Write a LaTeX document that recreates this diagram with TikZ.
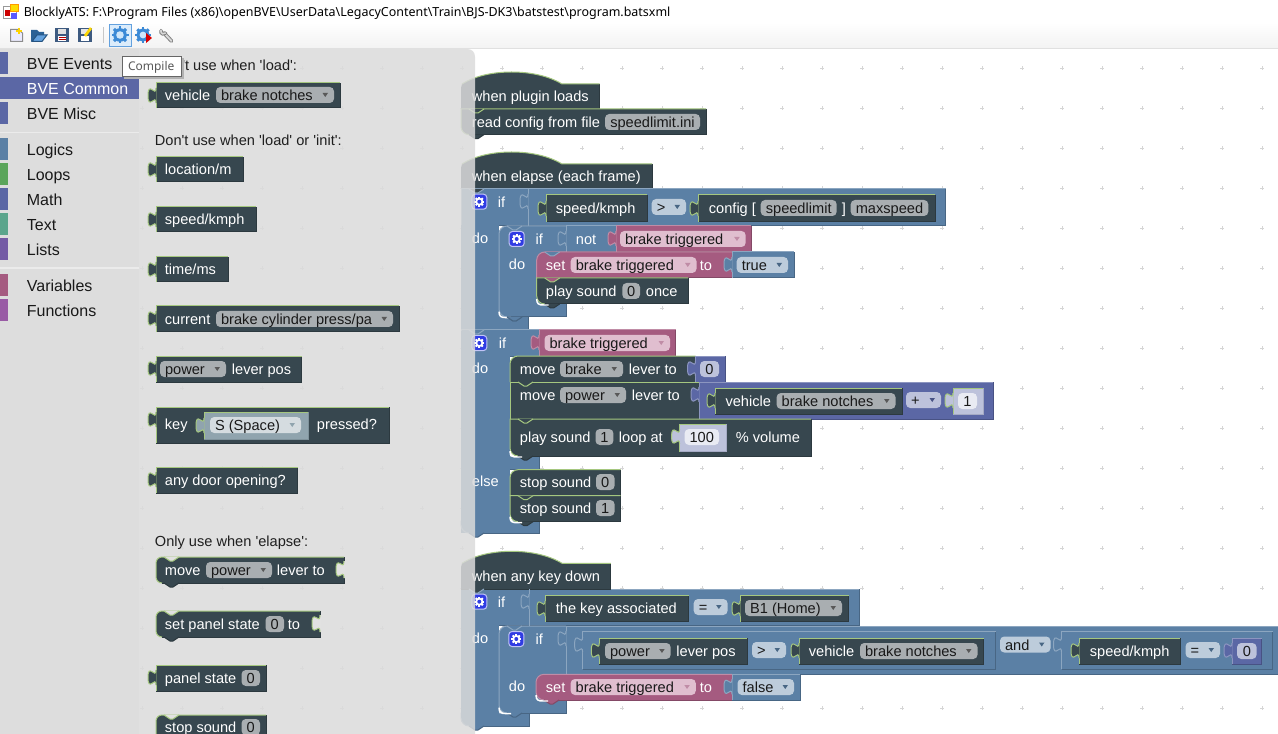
\documentclass[tikz,border=0pt]{standalone}
\usepackage{fontspec}
\newfontfamily\bkfont{Liberation Sans}
\newfontfamily\uifont{Noto Sans}
\definecolor{dk}{HTML}{37474F}\definecolor{dkL}{HTML}{A5C77F}\definecolor{dkD}{HTML}{2C393F}
\definecolor{bl}{HTML}{5B80A5}\definecolor{blL}{HTML}{8CA6C0}\definecolor{blD}{HTML}{486684}
\definecolor{pk}{HTML}{A55B80}\definecolor{pkL}{HTML}{C08CA6}\definecolor{pkD}{HTML}{844966}
\definecolor{pu}{HTML}{5B67A5}\definecolor{puL}{HTML}{8C95C0}\definecolor{puD}{HTML}{485284}
\definecolor{sh}{HTML}{BDC2DB}\definecolor{shL}{HTML}{A5C77F}\definecolor{shD}{HTML}{A5AAC4}
\definecolor{ks}{HTML}{90A4AE}\definecolor{ksL}{HTML}{A5C77F}\definecolor{ksD}{HTML}{7F929B}
\definecolor{fdk}{HTML}{A9AEB1}\definecolor{fpk}{HTML}{E0BECF}\definecolor{fbl}{HTML}{BDCCDB}
\definecolor{fpu}{HTML}{BDC2DB}\definecolor{fwh}{HTML}{E9EBF3}\definecolor{fky}{HTML}{D5DCE0}
\definecolor{flyb}{HTML}{E1E1E1}\definecolor{tool}{HTML}{DDDDDD}
\definecolor{gearb}{HTML}{2F3BE3}
\definecolor{lp}{HTML}{5BA55B}\definecolor{tx}{HTML}{5BA58C}\definecolor{ls}{HTML}{745BA5}\definecolor{fn}{HTML}{995BA5}
\definecolor{icb}{HTML}{3C8AD6}\definecolor{icl}{HTML}{CFE6FA}\definecolor{flp}{HTML}{3D5A80}
\newcounter{nc}
\tikzset{
  labst/.style={anchor=base west,inner sep=0pt,font=\bkfont\fontsize{10.95pt}{12pt}\selectfont},
  tbxst/.style={anchor=base west,inner sep=0pt,font=\bkfont\fontsize{12pt}{14pt}\selectfont},
  uist/.style={anchor=base west,inner sep=0pt,font=\uifont\fontsize{9.36pt}{11pt}\selectfont}
}
% text in a block
\newcommand\lab[3]{\stepcounter{nc}\node[labst,text=white] (n\arabic{nc}) at (#1-.6,#2+5.6) {#3};}
\newcommand\capt[3]{\stepcounter{nc}\node[labst,text=black!88] (n\arabic{nc}) at (#1-.6,#2+5.6) {#3};}
% rectangular block
\newcommand\blk[5]{\fill[#1] (#2,#3) rectangle (#4,#5);
  \draw[#1D] (#2,#5)--(#4,#5)--(#4,#3);
  \draw[#1L] (#2,#5)--(#2,#3)--(#4,#3);}
% statement block with rounded left corners
\newcommand\stm[7]{\fill[#1] (#2+#6,#3)--(#4,#3)--(#4,#5)--(#2+#7,#5)
    .. controls (#2+.45*#7,#5) and (#2,#5-.45*#7) .. (#2,#5-#7)--(#2,#3+#6)
    .. controls (#2,#3+.45*#6) and (#2+.45*#6,#3) .. (#2+#6,#3)--cycle;
  \draw[#1D] (#2+#7,#5)--(#4,#5)--(#4,#3);
  \draw[#1L] (#2+#7,#5) .. controls (#2+.45*#7,#5) and (#2,#5-.45*#7) .. (#2,#5-#7)--(#2,#3+#6)
    .. controls (#2,#3+.45*#6) and (#2+.45*#6,#3) .. (#2+#6,#3)--(#4,#3);}
% tab under a statement
\newcommand\tb[4]{\fill[#1] (#3+8,#4)--(#3+14,#4+4)--(#3+17,#4+4)--(#3+23,#4)--cycle;
  \draw[#2] (#3+8,#4)--(#3+14,#4+4)--(#3+17,#4+4)--(#3+23,#4);}
% output tab on the left of a value block
\newcommand\otab[3]{\fill[#1] (#2+.5,#3+5)--(#2,#3+5) .. controls (#2,#3+15) and (#2-8,#3-3) .. (#2-8,#3+12.5)
    .. controls (#2-8,#3+28) and (#2,#3+10) .. (#2,#3+20)--(#2+.5,#3+20)--cycle;
  \draw[#1L] (#2,#3+5) .. controls (#2,#3+15) and (#2-8,#3-3) .. (#2-8,#3+12.5)
    .. controls (#2-8,#3+28) and (#2,#3+10) .. (#2,#3+20);}
% empty socket at the right end
\newcommand\sock[2]{\fill[flyb] (#1+1,#2+4)--(#1,#2+4) .. controls (#1,#2+15) and (#1-8,#2-3) .. (#1-8,#2+12.5)
    .. controls (#1-8,#2+28) and (#1,#2+10) .. (#1,#2+21)--(#1+1,#2+21)--cycle;
  \draw[dkL] (#1,#2+4) .. controls (#1,#2+15) and (#1-8,#2-3) .. (#1-8,#2+12.5)
    .. controls (#1-8,#2+28) and (#1,#2+10) .. (#1,#2+21);}
% field with a drop-down arrow: fill, arrow colour, x1, x2, y, text
\newcommand\fda[6]{\fill[#1,rounded corners=3.2pt] (#3,#5-8) rectangle (#4,#5+8);
  \fill[#2] (#4-11.5,#5-2)--(#4-6,#5-2)--(#4-8.75,#5+2)--cycle;
  \stepcounter{nc}\node[labst,text=black!90] (n\arabic{nc}) at (#3+4.6,#5+5.6) {#6};}
% field without an arrow
\newcommand\fdn[5]{\fill[#1,rounded corners=3.2pt] (#2,#4-8) rectangle (#3,#4+8);
  \stepcounter{nc}\node[labst,text=black!90,anchor=base] (n\arabic{nc}) at ({(#2+#3)/2},#4+5.6) {#5};}
% hat
\newcommand\hatb[4]{\fill[dk] (#1,#3+4)--(#1+1,#3) .. controls (#1+26,#3-16) and (#1+75,#3-16) .. (#1+101,#3)--(#2,#3)--(#2,#4)--(#1,#4)--cycle;
  \draw[dkD] (#1,#4)--(#2,#4)--(#2,#3);
  \draw[dkL] (#1+1,#3) .. controls (#1+26,#3-16) and (#1+75,#3-16) .. (#1+101,#3)--(#2,#3);}
% round corner highlight
\newcommand\wc[2]{\draw[white,line width=1.1pt] (#1,#2-6) .. controls (#1,#2-1) and (#1+2,#2) .. (#1+7,#2)--(#1+12,#2);}
% gear
\newcommand\gearic[5]{\foreach \a in {0,45,...,315}{\draw[#4,line width=#5] (#1,#2)--++(\a:#3);}
  \fill[#4] (#1,#2) circle[radius=#3*.8];}
\newcommand\gearbtn[2]{\fill[gearb,rounded corners=2.4pt] (#1-7.5,#2-7.5) rectangle (#1+7.5,#2+7.5);
  \draw[white!70!gearb,rounded corners=2.4pt] (#1-7.5,#2-7.5) rectangle (#1+7.5,#2+7.5);
  \gearic{#1}{#2}{5}{white}{1.5pt}\fill[gearb] (#1,#2) circle[radius=2];}
\newcommand\tbx[4]{\fill[#1] (0,#2) rectangle (8,#2+22);
  \stepcounter{nc}\node[tbxst,text=black!90] (n\arabic{nc}) at (26.4,#3+6.2) {#4};}
\begin{document}
\begin{tikzpicture}[x=.75pt,y=-.75pt,line width=.75pt]
\useasboundingbox (0,0) rectangle (1278,734);
\fill[white] (0,0) rectangle (1278,734);
\clip (0,0) rectangle (1278,734);
% grid dots
\foreach \x in {142,182,...,1262}{\foreach \y in {68,108,...,728}{
  \draw[black!16,line width=.6pt] (\x-1.6,\y)--(\x+1.6,\y) (\x,\y-1.6)--(\x,\y+1.6);}}
% ---------- when plugin loads
\hatb{461}{599.5}{84}{109}
\stm{dk}{461}{109}{706}{134.6}{0}{8}
\tb{dk}{dkL}{461}{109}
\tb{dk}{dkD}{461}{134.6}
\lab{472}{96}{when plugin loads}
\lab{472}{122}{read config from file}
\fdn{fdk}{605}{700}{122}{speedlimit.ini}
% ---------- when elapse
\hatb{461}{652}{164}{189}
\lab{472}{176}{when elapse (each frame)}
\fill[bl] (461,189) rectangle (499,322);
\blk{bl}{461}{189}{945.6}{225.6}
\stm{bl}{461}{300}{528}{330}{0}{0}
\fill[bl] (461,225) rectangle (499,331);
\tb{dk}{blL}{461}{189}
\gearbtn{479.3}{201.7}
\lab{498}{202}{if}
\lab{472}{238}{do}
\draw[blL] (528,189)--(528,225.6);
\otab{bl}{528}{189}
\blk{dk}{546}{195}{647}{221.7}
\otab{dk}{546}{196}
\lab{556}{208}{speed/kmph}
\fda{fbl}{blD}{651.7}{686}{207}{>}
\blk{dk}{698}{195}{935}{221.7}
\otab{dk}{698}{196}
\lab{709}{208}{config [}
\fdn{fdk}{760.7}{836.7}{208}{speedlimit}
\lab{842}{208}{]}
\fdn{fdk}{850.7}{928.3}{208}{maxspeed}
% nested if
\stm{bl}{499}{226}{566}{317}{8}{8}
\tb{bl}{blD}{499}{317}
\wc{499}{317.6}
\gearbtn{516.7}{239}
\lab{535.7}{239}{if}
\lab{509}{264}{do}
\blk{bl}{566}{226}{616}{252}
\otab{bl}{566}{226}
\lab{576}{238.5}{not}
\blk{pk}{616}{226}{751}{252}
\otab{pk}{616}{226}
\fda{fpk}{pkL}{620}{745.7}{239}{brake triggered}
\stm{pk}{536.7}{252}{732}{278}{8}{0}
\tb{bl}{blL}{499}{226}
\blk{bl}{732}{252}{794.3}{278}
\otab{bl}{732}{252}
\lab{546}{265}{set}
\fda{fpk}{pkL}{570.7}{696.5}{265}{brake triggered}
\lab{700}{265}{to}
\fda{fbl}{blD}{736.7}{788}{265}{true}
\stm{dk}{536.7}{278}{688}{304}{0}{8}
\tb{pk}{dkL}{536.7}{278}
\tb{dk}{dkD}{536.7}{304}
\wc{536.7}{305}
\lab{546}{291}{play sound}
\fdn{fdk}{622.3}{640}{291}{0}
\lab{646}{291}{once}
\tb{bl}{blL}{536.7}{252}
% second if
\fill[bl] (461,330) rectangle (510,533);
\blk{bl}{461}{330}{539}{356}
\fill[bl] (461,331) rectangle (510,525);
\stm{bl}{461}{456}{539.3}{469.7}{0}{0}
\stm{bl}{461}{521}{539.3}{533}{0}{8}
\fill[bl] (461,331) rectangle (510,525);
\tb{bl}{blL}{461}{330}
\tb{bl}{blD}{499}{317}
\tb{bl}{blD}{461}{533}
\gearbtn{479.3}{343}
\lab{499}{343}{if}
\lab{472}{368}{do}
\lab{472}{481}{else}
\blk{pk}{539}{330}{675.5}{356}
\otab{pk}{539}{330}
\fda{fpk}{pkL}{544.5}{670}{343}{brake triggered}
\stm{dk}{510}{356}{695.5}{382}{8}{0}
\blk{pu}{695.5}{356}{725}{382}
\otab{pu}{695.5}{356}
\fdn{fpu}{700}{719}{369}{0}
\lab{520}{369}{move}
\fda{fdk}{black!65}{560}{623}{369}{brake}
\lab{629}{369}{lever to}
\stm{dk}{510}{382}{701}{419}{0}{0}
\lab{520}{395}{move}
\fda{fdk}{black!65}{560}{626}{395}{power}
\lab{632}{395}{lever to}
\blk{pu}{699}{382}{993}{419}
\otab{pu}{699}{382}
\blk{dk}{715}{388}{902}{414}
\otab{dk}{715}{388}
\lab{725.6}{401}{vehicle}
\fda{fdk}{black!65}{776.6}{895.5}{401}{brake notches}
\fda{fpu}{puD}{906}{941}{400}{+}
\blk{sh}{953}{388}{983.4}{414}
\otab{sh}{953}{388}
\fdn{fwh}{958}{977}{401}{1}
\stm{dk}{510}{419}{811}{456}{0}{8}
\lab{520}{437}{play sound}
\fdn{fdk}{595.5}{613.4}{437}{1}
\lab{619}{437}{loop at}
\blk{sh}{679.6}{424}{726}{451.7}
\otab{sh}{679.6}{424}
\fdn{fwh}{684.6}{719}{437}{100}
\lab{736}{437}{\% volume}
\tb{dk}{dkL}{510}{382}
\tb{dk}{dkL}{510}{419}
\tb{dk}{dkD}{510}{456}
\wc{510}{457}
\stm{dk}{510}{469.7}{620.7}{495.7}{8}{0}
\stm{dk}{510}{495.7}{620.7}{521.7}{0}{8}
\tb{dk}{dkL}{510}{495.7}
\tb{dk}{dkD}{510}{521.7}
\wc{510}{522.7}
\lab{520}{482}{stop sound}
\fdn{fdk}{596}{614.6}{482}{0}
\lab{520}{508}{stop sound}
\fdn{fdk}{596}{614.6}{508}{1}
% ---------- when any key down
\fill[bl] (461,589) rectangle (499,720);
\blk{bl}{461}{589}{859}{625.7}
\stm{bl}{461}{713}{529}{726}{0}{8}
\fill[bl] (461,590) rectangle (499,718);
\tb{bl}{blD}{461}{726}
\hatb{461}{610.8}{563.3}{589}
\tb{dk}{blL}{461}{589}
\lab{472}{576}{when any key down}
\gearbtn{479.3}{601.7}
\lab{498}{602}{if}
\lab{472}{638}{do}
\draw[blL] (529,589)--(529,625.7);
\otab{bl}{529}{589}
\blk{dk}{545}{595}{688.5}{621.7}
\otab{dk}{545}{596}
\lab{556}{608}{the key associated}
\fda{fbl}{blD}{693.7}{727.6}{607}{=}
\blk{dk}{740}{595}{848.6}{621.7}
\otab{dk}{740}{596}
\fda{fdk}{black!65}{745}{842}{608}{B1 (Home)}
% nested
\stm{bl}{499}{626}{566}{713}{8}{8}
\tb{bl}{blD}{499}{713}
\wc{499}{713.6}
\tb{bl}{blL}{499}{626}
\gearbtn{516.3}{639}
\lab{535.7}{639}{if}
\lab{509}{686}{do}
\blk{bl}{566}{626}{1290}{674}
\otab{bl}{566}{626}
\blk{bl}{582.6}{631.7}{995.7}{669.3}
\otab{bl}{582.6}{632}
\blk{dk}{599.3}{638}{747.4}{664}
\otab{dk}{599.3}{638}
\fda{fdk}{black!65}{605}{670.7}{651}{power}
\lab{676.5}{651}{lever pos}
\fda{fbl}{blD}{752}{786}{650}{>}
\blk{dk}{799}{638}{983.7}{664}
\otab{dk}{799}{638}
\lab{809}{651}{vehicle}
\fda{fdk}{black!65}{860}{977.5}{651}{brake notches}
\fda{fbl}{blD}{1000}{1050.5}{644.5}{and}
\blk{bl}{1061.5}{631.7}{1272.7}{669.3}
\otab{bl}{1061.5}{632}
\blk{dk}{1079}{638}{1180.4}{664}
\otab{dk}{1079}{638}
\lab{1090}{651}{speed/kmph}
\fda{fbl}{blD}{1185.6}{1220}{650}{=}
\blk{pu}{1232}{638}{1261.8}{664}
\otab{pu}{1232}{638}
\fdn{fpu}{1237}{1256.6}{651}{0}
\stm{pk}{536}{674.3}{732}{700}{8}{8}
\blk{bl}{732}{674.3}{800}{700}
\otab{bl}{732}{674.3}
\lab{546}{687}{set}
\fda{fpk}{pkL}{570.6}{695.8}{687}{brake triggered}
\lab{700}{687}{to}
\fda{fbl}{blD}{737.5}{794}{687}{false}
\tb{pk}{pkD}{536}{700}
\wc{536}{701}
% ---------- flyout
\fill[black!14,opacity=.85] (139,49)--(467,49) .. controls (472,49) and (475,52) .. (475,57)--(475,734)--(139,734)--cycle;
\capt{182.4}{65}{'t use when 'load':}
\blk{dk}{156}{83}{340}{108}
\otab{dk}{156}{83}
\lab{165}{95}{vehicle}
\fda{fdk}{black!65}{216}{334}{95}{brake notches}
\capt{155}{140}{Don't use when 'load' or 'init':}
\blk{dk}{156}{157}{243}{182}
\otab{dk}{156}{157}
\lab{165}{169}{location/m}
\blk{dk}{156}{207}{256}{232}
\otab{dk}{156}{207}
\lab{165}{219}{speed/kmph}
\blk{dk}{156}{257}{228}{282}
\otab{dk}{156}{257}
\lab{165}{269}{time/ms}
\blk{dk}{156}{306}{399}{332}
\otab{dk}{156}{306}
\lab{165}{319}{current}
\fda{fdk}{black!65}{216}{393}{319}{brake cylinder press/pa}
\blk{dk}{156}{356}{301.5}{382}
\otab{dk}{156}{356}
\fda{fdk}{black!65}{160}{226}{369}{power}
\lab{232}{369}{lever pos}
\blk{dk}{156}{407}{389}{443}
\otab{dk}{156}{407}
\lab{165}{424}{key}
\blk{ks}{204}{412}{308}{439}
\otab{ks}{204}{413}
\fda{fky}{ks}{210}{301}{425}{S (Space)}
\lab{317}{424}{pressed?}
\blk{dk}{156}{467}{297.5}{493}
\otab{dk}{156}{467}
\lab{165}{480}{any door opening?}
\capt{155}{541}{Only use when 'elapse':}
\stm{dk}{156}{557}{344}{583}{6}{6}
\tb{flyb}{dkL}{156}{557}
\tb{dk}{dkD}{156}{583}
\sock{344}{557}
\lab{165}{570}{move}
\fda{fdk}{black!65}{206}{272}{570}{power}
\lab{277}{570}{lever to}
\stm{dk}{156}{611}{320}{637}{6}{6}
\tb{flyb}{dkL}{156}{611}
\tb{dk}{dkD}{156}{637}
\sock{320}{611}
\lab{165}{624}{set panel state}
\fdn{fdk}{265.5}{284}{624}{0}
\lab{288}{624}{to}
\blk{dk}{156}{665}{266}{691}
\otab{dk}{156}{665}
\lab{165}{678}{panel state}
\fdn{fdk}{241.5}{260}{678}{0}
\stm{dk}{156}{715}{266}{745}{6}{0}
\tb{flyb}{dkL}{156}{715}
\lab{165}{727}{stop sound}
\fdn{fdk}{241.5}{260}{727}{0}
% ---------- toolbox
\fill[tool] (0,49) rectangle (139,734);
\draw[black!8,line width=1.2pt] (0,132.5)--(139,132.5) (0,268)--(139,268);
\tbx{pu}{52}{63}{BVE Events}
\fill[pu] (0,77) rectangle (139,99);
\stepcounter{nc}\node[tbxst,text=white] (n\arabic{nc}) at (26.4,88+6.2) {BVE Common};
\tbx{pu}{102}{113}{BVE Misc}
\tbx{bl}{138}{149}{Logics}
\tbx{lp}{163}{174}{Loops}
\tbx{pu}{188}{199}{Math}
\tbx{tx}{213}{224}{Text}
\tbx{ls}{238}{249}{Lists}
\tbx{pk}{274}{285}{Variables}
\tbx{fn}{299}{310}{Functions}
% ---------- title bar and toolbar
\fill[white] (0,0) rectangle (1278,22);
\shade[top color=white,bottom color=black!5] (0,22) rectangle (1278,49);
\draw[black!12] (0,48.5)--(1278,48.5);
% app icon
\draw[black!40] (3.5,7) rectangle (16,19);
\fill[yellow!80!orange] (10,5) rectangle (18,12);
\draw[orange!80!yellow] (10,5) rectangle (18,12);
\fill[red!80!black] (4.5,10.5) rectangle (9.5,16);
\fill[blue!65!white] (11,13.5) rectangle (17,19);
\stepcounter{nc}\node[uist,text=black] (n\arabic{nc}) at (23.3,17) {BlocklyATS: F:\textbackslash Program Files (x86)\textbackslash openBVE\textbackslash UserData\textbackslash LegacyContent\textbackslash Train\textbackslash BJS-DK3\textbackslash batstest\textbackslash program.batsxml};
% new
\draw[black!45,fill=white!92!blue] (10.5,29.5)--(18,29.5)--(22.5,33)--(22.5,41.5)--(10.5,41.5)--cycle;
\draw[yellow!70!orange,line width=1.5pt] (19,28)--(19,34) (16,31)--(22,31);
% open
\fill[icb!70!black] (31,41.5)--(31,30)--(37,30)--(39,32)--(44,32)--(44,35)--(38,35)--(33,41.5)--cycle;
\fill[icb!80!white] (32,41.5)--(37,35)--(47,35)--(42,41.5)--cycle;
\draw[icb!60!black] (32,41.5)--(37,35)--(47,35)--(42,41.5)--cycle;
% save
\fill[flp] (55,28.5) rectangle (69,42);
\fill[black!12] (58,29.5) rectangle (66,34);
\fill[white] (58,36) rectangle (66,41);
\draw[red!70!black] (58.5,37.5)--(65.5,37.5) (58.5,39.5)--(65.5,39.5);
% save as
\fill[flp] (78,28.5) rectangle (92,42);
\fill[black!10] (81,29.5) rectangle (88,34);
\fill[white] (81,36) rectangle (89,41);
\draw[yellow!75!orange,line width=2pt] (85,36)--(91,28);
% separator
\draw[black!22] (103.5,27)--(103.5,43);
% compile button
\draw[icb!80!white,fill=icl!75!white] (109.5,24.5) rectangle (131.5,46.5);
\gearic{120}{35}{8.5}{icb}{2.2pt}
\fill[icl] (120,35) circle[radius=3.8];
% run
\gearic{143}{35}{8}{icb}{2.2pt}
\fill[icl] (143,35) circle[radius=3.4];
\fill[red!85!black] (146,33)--(152,38)--(146,43)--cycle;
% wrench
\draw[black!50,line width=2.8pt,line cap=round] (164,33)--(171.5,41);
\draw[black!15,line width=1.4pt,line cap=round] (164,33)--(171.5,41);
\draw[black!50,line width=2.6pt,line cap=round] (161,30.5) arc[start angle=200,end angle=40,radius=2.6];
\draw[black!15,line width=1.2pt,line cap=round] (161,30.5) arc[start angle=200,end angle=40,radius=2.6];
% tooltip
\fill[black!30] (124,58) rectangle (183.5,79);
\draw[black!60,fill=white] (122,56.5) rectangle (181.5,77);
\stepcounter{nc}\node[anchor=base west,inner sep=0pt,font=\uifont\fontsize{9pt}{11pt}\selectfont,text=black!65] (n\arabic{nc}) at (127.5,70.5) {Compile};
\end{tikzpicture}
\end{document}
